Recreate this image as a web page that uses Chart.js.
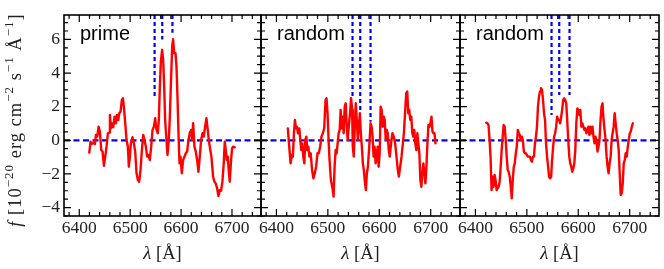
<!DOCTYPE html>
<html><head><meta charset="utf-8">
<script src="https://cdn.jsdelivr.net/npm/chart.js@4.4.1/dist/chart.umd.min.js"></script>
<style>
html,body{margin:0;padding:0;background:#fff;}
#wrap{position:relative;width:664px;height:269px;overflow:hidden;background:#fff;}
#wrap canvas{position:absolute;left:0;top:0;}
</style>
</head><body>
<div id="wrap">
<canvas id="c0" width="664" height="269"></canvas>
<canvas id="c1" width="664" height="269"></canvas>
<canvas id="c2" width="664" height="269"></canvas>
</div>
<script>
// ---- data ----
const panelLabels = ['prime', 'random', 'random'];
const xTickLabels = [6400, 6500, 6600, 6700];
const yTickLabels = [-4, -2, 0, 2, 4, 6];
const xRange = [6370, 6757];
const yRange = [-4.5, 7.45];
const lineCenters = [6548, 6563, 6583];
const lineBottoms1 = [2.6, 6.0, 6.4];
const lineBottoms2 = [2.5, 1.8, 1.1];
const lineBottoms3 = [1.5, 2.7, 2.7];

const lam1 = [6419.6,6422.2,6424.2,6427.5,6430.7,6432.7,6435.3,6437.9,6440.5,6443.2,
6445.8,6448.4,6451.0,6453.6,6456.2,6458.9,6460.2,6462.1,6464.1,6466.7,
6469.3,6471.9,6473.9,6476.5,6478.5,6481.1,6483.7,6485.7,6487.6,6490.3,
6492.9,6495.5,6497.4,6499.4,6501.4,6504.6,6507.3,6509.9,6512.5,6515.1,
6517.7,6520.3,6523.0,6525.6,6528.2,6530.8,6533.4,6536.0,6538.6,6541.3,
6543.9,6546.5,6549.1,6551.7,6554.3,6556.3,6558.3,6560.2,6562.8,6564.8,
6566.8,6568.7,6571.3,6573.3,6575.9,6577.9,6580.5,6582.5,6584.4,6586.4,
6589.0,6591.0,6592.9,6594.9,6596.9,6598.8,6601.4,6604.0,6606.7,6609.3,
6611.9,6614.5,6617.1,6619.7,6621.7,6623.7,6626.3,6628.9,6631.5,6634.1,
6636.7,6639.4,6642.0,6644.6,6647.2,6649.8,6652.4,6654.4,6656.4,6659.6,
6662.9,6665.5,6668.1,6670.8,6673.4,6676.0,6678.6,6681.2,6683.8,6685.8,
6687.8,6689.7,6691.7,6693.6,6695.6,6698.2,6700.2,6702.1,6705.4];
const flux1 = [-0.73,-0.08,-0.22,-0.14,-0.22,0.32,0.22,0.81,0.52,-0.58,
-0.67,-1.51,-0.97,-0.38,0.42,0.46,1.51,0.71,1.01,0.77,
1.41,1.01,1.51,1.21,1.61,1.71,2.40,2.50,2.00,1.01,
0.02,-0.38,-1.57,-0.97,-0.18,0.18,-0.18,-0.67,-1.96,-2.36,
-2.46,-1.77,-0.58,0.32,0.02,-0.38,-0.97,-0.87,-1.17,-0.38,
0.62,0.81,1.31,0.62,0.42,1.21,3.19,4.68,5.38,4.78,
3.19,1.21,0.02,-0.87,0.02,1.41,3.79,5.58,6.01,5.18,
5.18,4.38,2.60,0.42,-1.37,-0.97,-1.96,-1.17,-0.97,-0.77,
-0.67,0.02,0.42,0.62,0.02,1.01,-0.38,-0.67,-1.17,-1.87,
-0.97,0.02,0.42,0.22,0.81,1.31,0.62,0.02,-0.38,-0.97,
-2.16,-2.46,-2.56,-2.86,-3.31,-2.96,-3.00,-2.46,-1.37,-0.08,
-0.58,-1.17,-0.97,-1.77,-2.46,-1.17,-0.48,-0.38,-0.42];

const lam2 = [6422.2,6424.9,6427.5,6430.1,6432.0,6434.0,6436.0,6437.9,6439.9,6441.9,
6444.5,6446.4,6448.4,6450.4,6452.3,6454.3,6456.2,6458.2,6460.2,6462.1,
6464.1,6466.7,6469.3,6471.9,6474.6,6477.2,6479.8,6482.4,6485.0,6487.6,
6490.3,6492.9,6495.5,6497.4,6499.4,6501.4,6503.3,6505.9,6508.6,6511.2,
6513.1,6515.1,6517.1,6519.0,6521.0,6523.0,6524.9,6526.9,6528.8,6530.8,
6532.8,6534.7,6536.7,6538.6,6540.6,6543.2,6545.2,6547.2,6548.5,6550.4,
6552.4,6554.3,6556.3,6558.3,6560.2,6562.2,6564.2,6566.1,6568.1,6570.0,
6572.0,6574.0,6575.9,6577.9,6580.5,6583.1,6585.1,6587.0,6589.0,6591.0,
6592.9,6594.9,6596.9,6598.8,6600.8,6602.7,6604.7,6606.7,6608.6,6610.6,
6612.6,6614.5,6616.5,6618.4,6620.4,6623.0,6625.6,6628.2,6630.9,6633.5,
6636.1,6638.1,6640.7,6643.3,6645.9,6647.9,6650.5,6652.4,6654.4,6656.4,
6658.3,6660.3,6662.3,6664.2,6666.2,6668.1,6670.1,6672.1,6674.0,6676.0,
6678.0,6679.9,6681.9,6683.8,6685.8,6687.8,6689.7,6691.7,6693.6,6695.6,
6697.6,6699.5,6701.5,6703.5,6705.4,6707.4,6709.3];
const flux2 = [0.71,-0.38,-1.37,-0.87,-0.97,0.42,1.21,0.71,0.81,0.42,
0.71,0.02,-0.58,-0.18,-0.97,-1.37,0.02,0.22,-0.58,-0.38,
-0.97,-0.77,-1.77,-2.26,-1.96,-1.57,-0.77,-0.77,-0.38,0.22,
0.42,0.71,2.40,2.50,1.61,0.02,-1.17,-2.36,-2.76,-3.35,
-1.57,-0.58,-0.77,-0.18,0.42,0.62,1.81,0.71,1.41,0.42,
2.00,2.20,0.81,0.02,0.81,1.61,2.50,1.81,-0.38,-0.97,
0.81,2.20,1.21,0.02,0.81,1.61,0.42,-0.38,-1.37,-1.77,
-2.46,-2.96,-1.96,-1.57,-0.38,1.01,0.81,0.22,-0.97,-0.38,
-1.37,-0.97,-0.38,-1.57,-0.77,2.00,1.81,0.81,1.41,1.21,
0.02,0.62,0.42,-0.58,-0.97,-0.18,0.42,0.22,-0.18,-0.97,
-1.77,-2.16,-1.57,-0.97,-0.18,0.42,1.81,2.80,2.90,1.61,
1.81,1.21,1.41,0.42,0.22,0.62,-0.18,-0.58,0.42,-0.18,
-0.77,-2.36,-2.76,-1.96,-1.37,-1.96,-2.56,-1.57,-0.18,0.91,
0.81,1.01,1.41,0.52,0.42,0.42,-0.18];

const lam3 = [6420.9,6423.5,6425.5,6427.5,6429.4,6431.4,6433.4,6435.3,6437.3,6439.2,
6441.2,6443.2,6445.1,6447.1,6449.1,6451.0,6453.0,6454.9,6456.9,6458.9,
6460.8,6462.8,6464.7,6466.7,6468.7,6470.6,6472.6,6474.6,6476.5,6478.5,
6480.4,6482.4,6484.4,6486.3,6488.3,6490.3,6492.2,6494.2,6496.1,6498.1,
6500.1,6502.0,6504.0,6505.9,6507.9,6509.9,6511.8,6513.8,6515.8,6517.7,
6519.7,6521.6,6523.6,6525.6,6527.5,6529.5,6531.5,6533.4,6535.4,6537.3,
6539.3,6541.3,6543.2,6545.2,6547.2,6549.1,6551.1,6553.0,6555.0,6557.0,
6558.9,6560.9,6562.8,6564.8,6566.8,6568.7,6570.7,6572.7,6574.6,6576.6,
6578.5,6580.5,6582.5,6584.4,6586.4,6588.4,6590.3,6592.3,6594.2,6596.2,
6598.2,6600.1,6602.1,6604.0,6606.0,6608.0,6609.9,6611.9,6613.9,6615.8,
6617.8,6619.7,6621.7,6623.7,6625.6,6627.6,6629.6,6631.5,6633.5,6635.4,
6637.4,6639.4,6641.3,6643.3,6645.3,6647.2,6649.2,6651.1,6653.1,6655.1,
6657.0,6659.0,6660.9,6662.9,6664.9,6666.8,6668.8,6670.8,6672.7,6674.7,
6676.6,6678.6,6680.6,6682.5,6684.5,6686.5,6688.4,6690.4,6692.3,6694.3,
6696.3,6698.2,6700.2,6702.1,6704.1,6706.1];
const flux3 = [1.05,1.01,0.91,0.02,-0.97,-2.96,-2.16,-2.76,-2.06,-2.36,
-2.96,-2.86,-2.76,-2.46,-1.57,-0.58,0.22,0.91,0.81,0.02,
-0.97,-1.77,-1.87,-2.16,-2.76,-3.45,-2.36,-1.57,-1.37,-0.77,
-0.38,0.62,0.42,0.32,0.02,0.22,0.02,-0.67,-0.77,-0.77,
-0.87,-0.97,-0.97,-0.97,-1.17,-1.27,-0.97,-0.97,-0.18,0.22,
0.81,2.00,2.60,2.90,3.10,3.00,2.40,1.61,1.21,-0.18,
-0.97,-1.57,-2.16,-2.26,-2.16,-1.17,-0.38,0.22,0.42,0.81,
1.41,1.21,1.21,1.01,1.41,1.81,2.40,2.50,2.40,2.20,
1.21,0.02,-0.97,-1.37,-1.57,-1.87,-1.67,-1.37,-0.58,1.01,
1.90,1.81,1.51,1.81,0.81,1.01,0.81,0.62,0.71,0.42,
0.52,0.81,0.32,0.81,0.42,0.81,0.22,-0.18,0.22,0.02,
-0.67,-0.38,0.02,1.21,2.00,2.20,1.21,0.62,0.02,-0.97,
-1.57,-1.96,-1.37,-0.97,0.02,0.42,0.81,1.61,1.01,0.42,
0.02,-0.58,-1.96,-3.25,-3.15,-2.56,-1.37,-1.17,-0.77,-0.97,
-0.38,0.02,0.42,0.52,0.81,1.01];

// ---- style / layout ----
const RED = '#ff0000', BLUE = '#0000ff';
const SERIF = "'Liberation Serif', 'Times New Roman', serif";
const SANS = "'Liberation Sans', Arial, sans-serif";
const TEXT = '#222';
Chart.defaults.font.family = SERIF;
const panels = [
  {id:'c0', lam:lam1, flux:flux1, ends:lineBottoms1, left:64, right:261},
  {id:'c1', lam:lam2, flux:flux2, ends:lineBottoms2, left:261, right:460},
  {id:'c2', lam:lam3, flux:flux3, ends:lineBottoms3, left:460, right:659}
];
const W = 664, H = 269, TOP = 15, BOTTOM = 216;

function fmt(v){ return v < 0 ? '\u2212' + Math.abs(v) : String(v); }

const framePlugin = {
  id: 'frameTicks',
  afterDatasetsDraw(chart) {
    const {ctx, chartArea: a, scales: {x, y}} = chart;
    ctx.save();
    ctx.strokeStyle = '#000';
    ctx.lineWidth = 1.2;
    ctx.beginPath();
    for (let v = 6380; v <= xRange[1]; v += 20) {
      const p = x.getPixelForValue(v);
      const L = (v % 100 === 0) ? 7 : 4;
      ctx.moveTo(p, a.bottom); ctx.lineTo(p, a.bottom - L);
      ctx.moveTo(p, a.top); ctx.lineTo(p, a.top + L);
    }
    for (let k = -9; k <= 14; k++) {
      const v = k / 2;
      const p = y.getPixelForValue(v);
      const L = (k % 4 === 0) ? 7 : 4;
      ctx.moveTo(a.left, p); ctx.lineTo(a.left + L, p);
      ctx.moveTo(a.right, p); ctx.lineTo(a.right - L, p);
    }
    ctx.stroke();
    ctx.lineWidth = 1.6;
    ctx.strokeRect(a.left, a.top, a.right - a.left, a.bottom - a.top);
    ctx.restore();
  }
};

const textPlugin = {
  id: 'panelText',
  afterDraw(chart, args, opts) {
    const {ctx, chartArea: a} = chart;
    ctx.save();
    ctx.fillStyle = '#000';
    ctx.font = '20px ' + SANS;
    ctx.textBaseline = 'alphabetic';
    ctx.textAlign = 'left';
    ctx.fillText(opts.label, a.left + 16, 40);
    ctx.fillStyle = TEXT;
    const f1 = 'italic 18.5px ' + SERIF, f2 = '18.5px ' + SERIF;
    ctx.font = f1; const w1 = ctx.measureText('\u03bb').width;
    ctx.font = f2; const w2 = ctx.measureText(' [\u00c5]').width;
    const cx = (a.left + a.right) / 2;
    const x0 = cx - (w1 + w2) / 2;
    ctx.font = f1; ctx.fillText('\u03bb', x0, 259);
    ctx.font = f2; ctx.fillText(' [\u00c5]', x0 + w1, 259);
    if (opts.yTitle) {
      const parts = [
        {t:'f', it:true}, {t:' [10'}, {t:'\u221220', sup:true}, {t:' erg cm'},
        {t:'\u22122', sup:true}, {t:' s'}, {t:'\u22121', sup:true}, {t:' \u00c5'},
        {t:'\u22121', sup:true}, {t:']'}
      ];
      const fontFor = p => (p.it ? 'italic ' : '') + (p.sup ? '13px ' : '18.5px ') + SERIF;
      ctx.translate(21, 120);
      ctx.rotate(-Math.PI / 2);
      try { ctx.letterSpacing = '1px'; } catch(e) {}
      let total = 0;
      parts.forEach(p => { ctx.font = fontFor(p); p.w = ctx.measureText(p.t).width; total += p.w; });
      let xx = -total / 2;
      parts.forEach(p => {
        ctx.font = fontFor(p);
        ctx.fillText(p.t, xx, p.sup ? -8 : 0);
        xx += p.w;
      });
    }
    ctx.restore();
  }
};

panels.forEach((pn, i) => {
  const spectrum = pn.lam.map((l, k) => ({x: l, y: pn.flux[k]}));
  const datasets = [
    {data: spectrum, borderColor: RED, borderWidth: 2.4, showLine: true, pointRadius: 0, tension: 0,
     borderJoinStyle: 'round', borderCapStyle: 'round'}
  ];
  lineCenters.forEach((c, k) => {
    datasets.push({data: [{x: c, y: yRange[1]}, {x: c, y: pn.ends[k]}], borderColor: BLUE,
      borderWidth: 2.2, borderDash: [4, 3], showLine: true, pointRadius: 0});
  });
  datasets.push({data: [{x: xRange[0], y: 0}, {x: xRange[1], y: 0}], borderColor: BLUE,
    borderWidth: 2.2, borderDash: [6, 3.5], showLine: true, pointRadius: 0});

  new Chart(document.getElementById(pn.id), {
    type: 'scatter',
    data: {datasets},
    options: {
      responsive: false, animation: false, devicePixelRatio: 1,
      layout: {padding: {left: i === 0 ? 0 : pn.left, right: W - pn.right, top: TOP, bottom: 0}},
      plugins: {legend: {display: false}, tooltip: {enabled: false},
        panelText: {label: panelLabels[i], yTitle: i === 0}},
      events: [],
      scales: {
        x: {
          type: 'linear', position: 'bottom', min: xRange[0], max: xRange[1],
          grid: {display: false, drawTicks: false}, border: {display: false},
          afterBuildTicks: s => { s.ticks = xTickLabels.map(v => ({value: v})); },
          afterFit: s => { s.height = H - BOTTOM; },
          ticks: {autoSkip: false, maxRotation: 0, padding: 2, color: TEXT,
            font: {family: SERIF, size: 17.5}, callback: v => String(v)}
        },
        y: {
          type: 'linear', position: 'left', min: yRange[0], max: yRange[1],
          display: i === 0,
          grid: {display: false, drawTicks: false}, border: {display: false},
          afterBuildTicks: s => { s.ticks = yTickLabels.map(v => ({value: v})); },
          afterFit: s => { s.width = (i === 0) ? pn.left : 0; },
          ticks: {autoSkip: false, padding: 4, color: TEXT,
            font: {family: SERIF, size: 17.5}, callback: v => fmt(v)}
        }
      }
    },
    plugins: [framePlugin, textPlugin]
  });
});
</script>
</body></html>
